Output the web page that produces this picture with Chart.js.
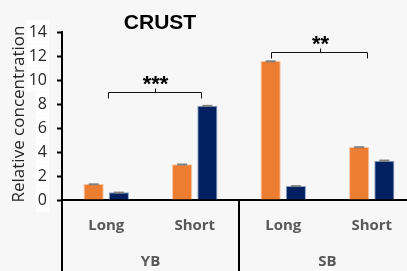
<!DOCTYPE html>
<html>
<head>
<meta charset="utf-8">
<script src="https://cdn.jsdelivr.net/npm/chart.js@4"></script>
<style>
  html, body { margin: 0; padding: 0; background: #f7f7f7; overflow: hidden; }
  #wrap { position: relative; width: 416px; height: 271px; }
</style>
</head>
<body>
<div id="wrap"><canvas id="chart"></canvas></div>
<script>
'use strict';

// data
let categories = ['Long', 'Short', 'Long', 'Short'];
let groups = ['YB', 'SB'];
let orangeValues = [1.33, 2.97, 11.58, 4.42];
let orangeErrors = [0.06, 0.07, 0.06, 0.06];
let navyValues = [0.64, 7.85, 1.17, 3.28];
let navyErrors = [0.06, 0.08, 0.07, 0.09];

// significance brackets: from / to (category index), height, label
let bracketFrom = [0.02, 1.86];
let bracketTo = [1.07, 2.95];
let bracketLevel = [9.0, 12.35];
let bracketStars = ['***', '**'];

let errorSets = [orangeErrors, navyErrors];

// pixel for a fractional category position
function catPixel(scale, v) {
  let p0 = scale.getPixelForValue(0);
  let p1 = scale.getPixelForValue(1);
  return p0 + v * (p1 - p0);
}

let extras = {
  id: 'extras',
  beforeDraw(chart) {
    let ctx = chart.ctx;
    ctx.save();
    ctx.fillStyle = '#f7f7f7';
    ctx.fillRect(0, 0, chart.width, chart.height);
    ctx.restore();
  },
  afterDatasetsDraw(chart) {
    let ctx = chart.ctx;
    let x = chart.scales.x;
    let y = chart.scales.y;
    ctx.save();

    // error bars
    ctx.fillStyle = '#7f7f7f';
    for (let d = 0; d < chart.data.datasets.length; d++) {
      let meta = chart.getDatasetMeta(d);
      let vals = chart.data.datasets[d].data;
      for (let i = 0; i < meta.data.length; i++) {
        let bar = meta.data[i];
        let top = y.getPixelForValue(vals[i] + errorSets[d][i]);
        let bot = y.getPixelForValue(vals[i] - errorSets[d][i]);
        let h = Math.max(bot - top, 2);
        ctx.fillRect(bar.x - 5, top, 10, h);
      }
    }

    // brackets with stars
    ctx.strokeStyle = '#111';
    ctx.lineWidth = 1;
    ctx.fillStyle = '#000';
    ctx.font = 'bold 22px "Liberation Sans", Arial, sans-serif';
    ctx.textAlign = 'center';
    ctx.textBaseline = 'alphabetic';
    for (let b = 0; b < bracketStars.length; b++) {
      let x1 = Math.round(catPixel(x, bracketFrom[b])) + 0.5;
      let x2 = Math.round(catPixel(x, bracketTo[b])) + 0.5;
      let yl = Math.round(y.getPixelForValue(bracketLevel[b])) + 0.5;
      let xm = Math.round((x1 + x2) / 2) + 0.5;
      ctx.beginPath();
      ctx.moveTo(x1, yl + 6);
      ctx.lineTo(x1, yl);
      ctx.lineTo(x2, yl);
      ctx.lineTo(x2, yl + 6);
      ctx.moveTo(xm, yl);
      ctx.lineTo(xm, yl - 4);
      ctx.stroke();
      ctx.fillText(bracketStars[b], xm, yl - 2);
    }
    ctx.restore();
  },
  afterDraw(chart) {
    let ctx = chart.ctx;
    let x = chart.scales.x;
    let area = chart.chartArea;
    ctx.save();

    // title
    ctx.fillStyle = '#000';
    ctx.font = 'bold 21px "Liberation Sans", Arial, sans-serif';
    ctx.textAlign = 'center';
    ctx.textBaseline = 'middle';
    ctx.fillText('CRUST', 160, 23);

    // y axis title
    ctx.save();
    ctx.translate(19, 114);
    ctx.rotate(-Math.PI / 2);
    ctx.fillStyle = '#262626';
    ctx.font = '17px "Open Sans", sans-serif';
    ctx.fillText('Relative concentration', 0, 0);
    ctx.restore();

    // group separators and group labels
    ctx.strokeStyle = '#000';
    ctx.lineWidth = 2;
    ctx.beginPath();
    for (let g = 0; g <= groups.length; g++) {
      let sx = g === 0 ? area.left : catPixel(x, g * 2 - 0.5);
      ctx.moveTo(sx, area.bottom);
      ctx.lineTo(sx, chart.height);
    }
    ctx.stroke();

    ctx.fillStyle = '#595959';
    ctx.font = 'bold 15px "Open Sans", sans-serif';
    for (let g = 0; g < groups.length; g++) {
      ctx.fillText(groups[g], catPixel(x, g * 2 + 0.5), 262);
    }
    ctx.restore();
  }
};

let config = {
  type: 'bar',
  data: {
    labels: categories,
    datasets: [{
      label: 'Long chain',
      data: orangeValues,
      backgroundColor: '#ed7d31',
      borderColor: '#f6c3a0',
      borderWidth: 1,
      categoryPercentage: 0.57,
      barPercentage: 0.8
    }, {
      label: 'Short chain',
      data: navyValues,
      backgroundColor: '#002060',
      borderColor: '#8fa3c8',
      borderWidth: 1,
      categoryPercentage: 0.57,
      barPercentage: 0.8
    }]
  },
  options: {
    responsive: true,
    maintainAspectRatio: false,
    animation: false,
    layout: { padding: { top: 32, left: 0, right: 0, bottom: 0 } },
    plugins: {
      legend: { display: false },
      tooltip: { enabled: false }
    },
    scales: {
      x: {
        afterFit(scale) { scale.height = 71; },
        grid: { display: false },
        border: { display: true, color: '#000', width: 2 },
        ticks: {
          color: '#595959',
          padding: 9,
          font: { family: '"Open Sans", sans-serif', size: 15, weight: 'bold' }
        }
      },
      y: {
        min: 0,
        max: 14,
        afterFit(scale) { scale.width = 62; },
        grid: { drawOnChartArea: false, drawTicks: true, tickLength: 5, tickColor: '#000', tickWidth: 2 },
        border: { display: true, color: '#000', width: 2 },
        ticks: {
          stepSize: 2,
          padding: 10,
          color: '#262626',
          showLabelBackdrop: true,
          backdropColor: '#ffffff',
          backdropPadding: 2,
          font: { family: '"Open Sans", sans-serif', size: 16 }
        }
      }
    }
  },
  plugins: [extras]
};

new Chart(document.getElementById('chart'), config);
</script>
</body>
</html>
